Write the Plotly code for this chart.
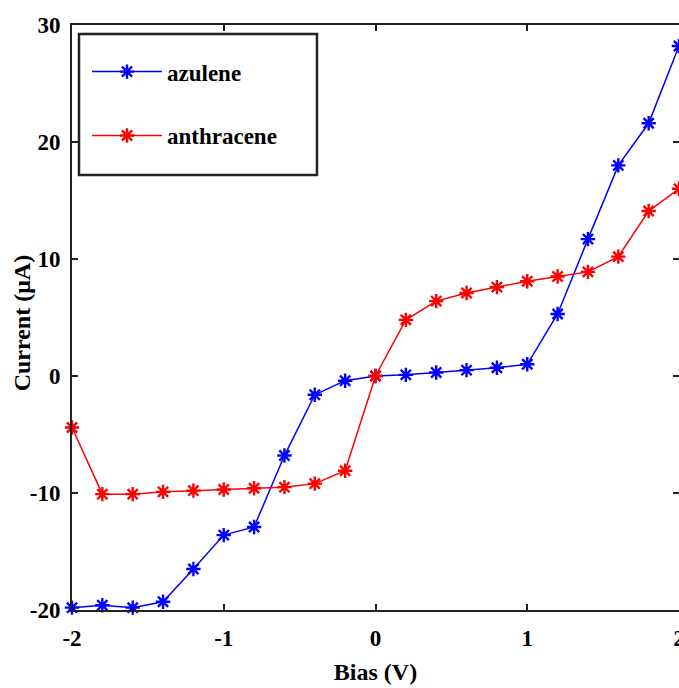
import plotly.graph_objects as go

bias = [-2.0, -1.8, -1.6, -1.4, -1.2, -1.0, -0.8, -0.6, -0.4, -0.2, 0.0,
        0.2, 0.4, 0.6, 0.8, 1.0, 1.2, 1.4, 1.6, 1.8, 2.0]
azulene = [-19.8, -19.6, -19.8, -19.3, -16.5, -13.6, -12.9, -6.8, -1.6, -0.4, 0.0,
           0.1, 0.3, 0.5, 0.7, 1.0, 5.3, 11.7, 18.0, 21.6, 28.2]
anthracene = [-4.4, -10.1, -10.1, -9.9, -9.8, -9.7, -9.6, -9.5, -9.2, -8.1, 0.0,
              4.8, 6.4, 7.1, 7.6, 8.1, 8.5, 8.9, 10.2, 14.1, 16.0]
x_ticks = [-2, -1, 0, 1, 2]
x_tick_text = ["-2", "-1", "0", "1", "2"]
y_ticks = [-20, -10, 0, 10, 20, 30]
y_tick_text = ["-20", "-10", "0", "10", "20", "30"]

FONT = "Liberation Serif"

fig = go.Figure()
fig.add_trace(go.Scatter(
    x=bias, y=azulene, mode="lines+markers", name="<b>azulene</b>",
    legendgroup="a",
    line=dict(color="#0000ff", width=1.5),
    marker=dict(symbol="asterisk-open", size=12, color="#0000ff",
                line=dict(color="#0000ff", width=2.4)),
    cliponaxis=False,
))
fig.add_trace(go.Scatter(
    x=bias, y=anthracene, mode="lines+markers", name="<b>anthracene</b>",
    legendgroup="b",
    line=dict(color="#ff0000", width=1.5),
    marker=dict(symbol="asterisk-open", size=12, color="#ff0000",
                line=dict(color="#ff0000", width=2.4)),
    cliponaxis=False,
))

axis_common = dict(
    showline=True, mirror="ticks", linecolor="#222222", linewidth=2,
    ticks="inside", ticklen=6, tickwidth=1.5, tickcolor="#222222",
    showgrid=False, zeroline=False, ticklabeloverflow="allow",
    automargin=False,
    tickfont=dict(family=FONT, size=23, color="black", weight="bold"),
)

fig.update_xaxes(range=[-2, 2], tickvals=x_ticks, ticktext=x_tick_text,
                 ticklabelstandoff=6,
                 title=dict(text="<b>Bias (V)</b>", standoff=14,
                            font=dict(family=FONT, size=24, color="black")),
                 **axis_common)
fig.update_yaxes(range=[-20, 30], tickvals=y_ticks, ticktext=y_tick_text,
                 ticklabelstandoff=5,
                 **axis_common)

# y-axis title placed beside the tick labels
fig.add_annotation(text="<b>Current (μA)</b>", xref="paper", yref="paper",
                   x=-0.0824, y=0.49, xanchor="center", yanchor="middle",
                   textangle=-90, showarrow=False,
                   font=dict(family=FONT, size=24, color="black"))

# legend frame (paper coords derived from plot area)
fig.add_shape(type="rect", xref="paper", yref="paper",
              x0=0.0115, x1=0.4036, y0=0.7436, y1=0.9846,
              line=dict(color="#222222", width=2.5), fillcolor="white",
              layer="above")

fig.update_layout(
    width=679, height=688,
    margin=dict(l=72, r=0, t=25, b=78),
    font=dict(family=FONT, color="black"),
    plot_bgcolor="white", paper_bgcolor="white",
    showlegend=True,
    legend=dict(
        x=0.0247, y=0.957, xanchor="left", yanchor="top",
        borderwidth=0, bgcolor="rgba(0,0,0,0)",
        font=dict(family=FONT, size=23, color="black"),
        tracegroupgap=31, traceorder="grouped",
        entrywidth=170, itemwidth=70,
    ),
)

fig.write_html("out.html")
